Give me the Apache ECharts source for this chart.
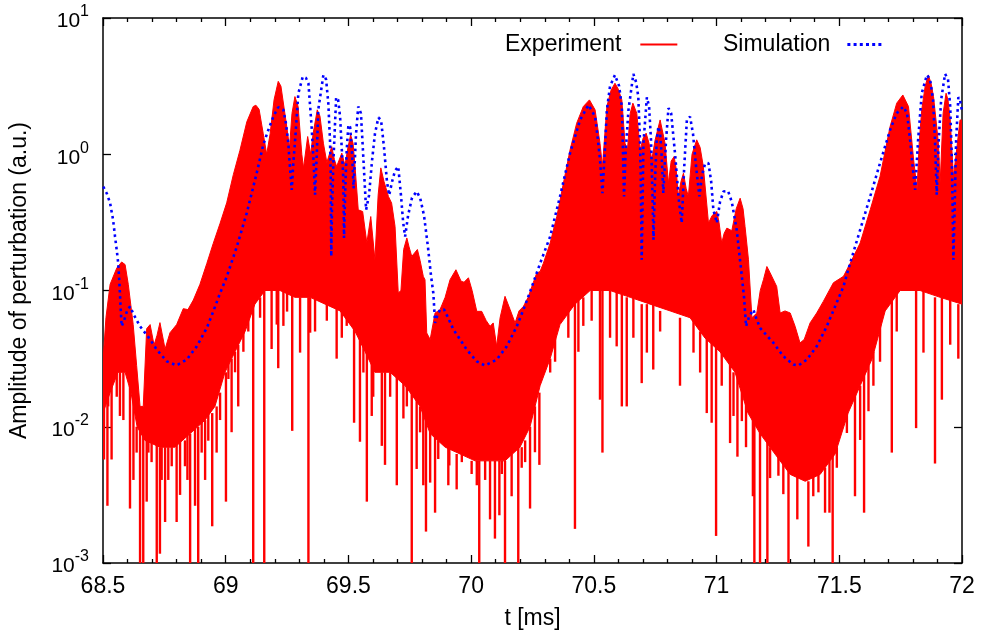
<!DOCTYPE html>
<html>
<head>
<meta charset="utf-8">
<script src="https://cdn.jsdelivr.net/npm/echarts@6/dist/echarts.min.js"></script>
<style>
html,body{margin:0;padding:0;background:#fff;}
#chart{width:982px;height:635px;}
</style>
</head>
<body>
<div id="chart"></div>
<script>
// ---------- data ----------
// x in ms, amplitude in a.u.
const xTicks = [68.5, 69, 69.5, 70, 70.5, 71, 71.5, 72];
const yTicks = [0.001, 0.01, 0.1, 1, 10];

// Experiment: upper edge of the dense red signal
const expUpper = [
[68.500,0.0302],[68.512,0.0631],[68.529,0.111],[68.556,0.146],[68.576,0.162],[68.590,0.155],[68.603,0.111],
[68.623,0.0562],[68.637,0.0282],[68.651,0.0141],[68.664,0.0141],[68.678,0.0525],[68.692,0.0562],[68.708,0.0398],
[68.720,0.0468],[68.732,0.0581],[68.753,0.0372],[68.773,0.0490],[68.800,0.0562],[68.827,0.0736],[68.846,0.0724],
[68.868,0.0851],[68.895,0.111],[68.923,0.158],[68.949,0.221],[68.977,0.311],[69.004,0.440],[69.031,0.708],
[69.058,1.069],[69.086,1.730],[69.112,2.239],[69.123,2.291],[69.136,2.138],[69.153,1.413],[69.167,1.0],
[69.181,1.413],[69.197,2.512],[69.214,3.428],[69.225,3.162],[69.249,1.585],[69.260,1.122],[69.270,1.995],
[69.282,2.649],[69.295,2.239],[69.310,1.0],[69.317,0.794],[69.334,1.349],[69.346,1.0],[69.356,1.413],
[69.373,2.118],[69.384,1.905],[69.398,1.205],[69.412,0.871],[69.432,1.138],[69.443,0.912],[69.452,0.813],
[69.473,1.019],[69.486,0.832],[69.498,1.122],[69.509,1.387],[69.519,1.202],[69.527,0.813],[69.540,0.391],
[69.558,0.380],[69.575,0.223],[69.591,0.349],[69.608,0.168],[69.621,0.501],[69.632,0.794],[69.645,0.631],
[69.663,0.490],[69.676,0.438],[69.690,0.295],[69.703,0.0959],[69.714,0.1],[69.725,0.2],[69.738,0.243],
[69.747,0.209],[69.758,0.178],[69.781,0.2],[69.792,0.166],[69.805,0.127],[69.812,0.120],[69.819,0.0488],
[69.833,0.0437],[69.853,0.0684],[69.873,0.0723],[69.894,0.0891],[69.914,0.120],[69.938,0.142],[69.959,0.117],
[69.971,0.115],[69.989,0.124],[70.004,0.1],[70.023,0.0703],[70.043,0.0703],[70.061,0.0603],[70.077,0.0546],
[70.090,0.0578],[70.104,0.0389],[70.118,0.0631],[70.138,0.0906],[70.159,0.0723],[70.179,0.0578],[70.195,0.0708],
[70.213,0.0764],[70.232,0.0891],[70.253,0.114],[70.267,0.134],[70.281,0.138],[70.294,0.158],[70.322,0.223],
[70.349,0.349],[70.376,0.614],[70.403,1.076],[70.430,1.690],[70.457,2.239],[70.482,2.506],[70.505,2.118],
[70.525,1.205],[70.535,0.813],[70.553,2.239],[70.570,2.951],[70.586,3.319],[70.599,3.020],[70.614,2.506],
[70.627,1.205],[70.637,1.076],[70.648,1.995],[70.659,2.371],[70.675,1.995],[70.689,1.076],[70.701,1.318],
[70.713,1.429],[70.725,1.202],[70.736,0.910],[70.749,1.259],[70.770,1.786],[70.790,1.205],[70.804,0.614],
[70.815,0.891],[70.827,0.962],[70.835,0.794],[70.844,0.490],[70.855,0.631],[70.865,0.726],[70.876,0.562],
[70.885,0.490],[70.900,1.0],[70.919,1.276],[70.933,1.122],[70.946,0.813],[70.967,0.313],[70.982,0.355],
[71.001,0.380],[71.010,0.316],[71.021,0.223],[71.031,0.263],[71.042,0.287],[71.062,0.275],[71.080,0.398],
[71.096,0.476],[71.108,0.398],[71.116,0.295],[71.130,0.168],[71.144,0.0631],[71.164,0.0684],[71.178,0.1],
[71.191,0.120],[71.205,0.150],[71.218,0.135],[71.245,0.107],[71.259,0.0684],[71.279,0.0708],[71.300,0.0684],
[71.320,0.0546],[71.340,0.0412],[71.357,0.0437],[71.381,0.0578],[71.408,0.0684],[71.435,0.0832],[71.476,0.114],
[71.517,0.127],[71.544,0.158],[71.585,0.223],[71.626,0.391],[71.666,0.687],[71.707,1.596],[71.734,2.371],
[71.759,2.723],[71.782,2.239],[71.803,0.910],[71.817,0.548],[71.826,1.259],[71.836,2.118],[71.850,3.162],
[71.863,3.819],[71.874,3.311],[71.884,2.649],[71.904,1.205],[71.911,0.614],[71.923,1.995],[71.935,2.805],
[71.943,2.512],[71.952,1.786],[71.965,0.687],[71.976,1.0],[71.992,1.786],[72.000,1.778]
];

// Experiment: lower edge of the dense red signal
const expLower = [
[68.500,0.0126],[68.529,0.0178],[68.561,0.0251],[68.590,0.0251],[68.614,0.0178],[68.639,0.01],[68.671,0.00794],
[68.732,0.00708],[68.793,0.00708],[68.855,0.00891],[68.916,0.0112],[68.956,0.0141],[68.997,0.0251],[69.038,0.0355],
[69.079,0.0501],[69.119,0.0794],[69.160,0.1],[69.221,0.1],[69.282,0.0891],[69.344,0.0891],[69.405,0.0794],
[69.466,0.0708],[69.527,0.0501],[69.568,0.0355],[69.608,0.0251],[69.670,0.0251],[69.731,0.02],[69.792,0.0141],
[69.833,0.00891],[69.894,0.00708],[69.955,0.00631],[70.016,0.00562],[70.077,0.00562],[70.138,0.00562],[70.199,0.00708],
[70.240,0.01],[70.281,0.02],[70.322,0.0316],[70.362,0.0562],[70.423,0.0794],[70.485,0.1],[70.566,0.1],
[70.648,0.0891],[70.729,0.0794],[70.811,0.0708],[70.892,0.0631],[70.953,0.0447],[71.014,0.0355],[71.075,0.0251],
[71.128,0.0126],[71.177,0.00891],[71.238,0.00631],[71.300,0.00447],[71.361,0.00398],[71.422,0.00447],[71.483,0.00631],
[71.536,0.0126],[71.585,0.02],[71.634,0.0316],[71.687,0.0708],[71.748,0.1],[71.829,0.1],[71.911,0.0891],[72.000,0.0794]
];

// Experiment: downward excursions below the dense part [t, from, to]
const expSpikes = [
[68.504,0.0141,0.00575],[68.518,0.0178,0.00263],[68.521,0.0178,0.0141],[68.535,0.02,0.00575],[68.556,0.0251,0.0166],
[68.569,0.0251,0.012],[68.583,0.0251,0.0112],[68.610,0.02,0.00251],[68.624,0.0178,0.00407],[68.637,0.01,0.00646],
[68.651,0.01,0.001],[68.664,0.00891,0.001],[68.678,0.00794,0.00282],[68.685,0.00794,0.00646],[68.698,0.00794,0.0055],
[68.719,0.00794,0.001],[68.732,0.00708,0.00117],[68.739,0.00708,0.00407],[68.753,0.00708,0.002],[68.766,0.00708,0.00407],
[68.780,0.00708,0.00513],[68.800,0.00794,0.002],[68.814,0.00794,0.00316],[68.834,0.00794,0.00513],[68.844,0.00891,0.00407],
[68.855,0.00891,0.001],[68.875,0.01,0.00263],[68.888,0.01,0.001],[68.902,0.0112,0.00646],[68.916,0.0112,0.00407],
[68.929,0.0126,0.0079],[68.945,0.0126,0.00186],[68.963,0.0141,0.00646],[68.977,0.0178,0.0112],[69.001,0.0251,0.00282],
[69.011,0.0316,0.0224],[69.024,0.0316,0.00912],[69.038,0.0355,0.0251],[69.051,0.0398,0.0141],[69.072,0.0501,0.0355],
[69.092,0.0631,0.05],[69.112,0.0794,0.001],[69.140,0.0891,0.0631],[69.157,0.1,0.001],[69.187,0.1,0.0372],
[69.208,0.1,0.0562],[69.214,0.1,0.0269],[69.235,0.1,0.055],[69.250,0.1,0.07],[69.271,0.1,0.00933],
[69.303,0.0891,0.035],[69.337,0.0891,0.001],[69.344,0.0891,0.049],[69.364,0.0891,0.05],[69.412,0.0794,0.06],
[69.452,0.0794,0.0316],[69.473,0.0708,0.045],[69.493,0.0631,0.055],[69.523,0.0562,0.0107],[69.547,0.0501,0.00776],
[69.561,0.0398,0.025],[69.575,0.0398,0.00282],[69.595,0.0316,0.012],[69.601,0.0316,0.0166],[69.636,0.0251,0.00724],
[69.649,0.0251,0.00525],[69.670,0.0251,0.0166],[69.697,0.0251,0.00372],[69.724,0.0224,0.0115],[69.738,0.02,0.0141],
[69.758,0.02,0.001],[69.778,0.0178,0.0049],[69.792,0.0141,0.0091],[69.805,0.0141,0.00372],[69.816,0.0126,0.0017],
[69.833,0.01,0.00389],[69.853,0.00891,0.00234],[69.866,0.00794,0.0058],[69.907,0.00708,0.00372],[69.911,0.00708,0.0052],
[69.941,0.00631,0.00347],[69.962,0.00631,0.0055],[70.002,0.00562,0.0045],[70.023,0.00562,0.00372],[70.033,0.00562,0.001],
[70.057,0.00562,0.00407],[70.077,0.00562,0.00209],[70.097,0.00562,0.00151],[70.115,0.00562,0.00224],[70.125,0.00562,0.0045],
[70.138,0.00562,0.001],[70.165,0.00631,0.00309],[70.192,0.00708,0.001],[70.206,0.00708,0.005],[70.220,0.00794,0.0055],
[70.240,0.01,0.00251],[70.260,0.0141,0.0065],[70.278,0.0178,0.00525],[70.322,0.0316,0.025],[70.342,0.0447,0.03],
[70.396,0.0708,0.045],[70.423,0.0891,0.00178],[70.437,0.0891,0.0355],[70.457,0.0891,0.055],[70.491,0.1,0.06],
[70.525,0.1,0.0158],[70.535,0.1,0.00646],[70.566,0.1,0.045],[70.593,0.1,0.0389],[70.614,0.1,0.0141],
[70.634,0.0891,0.0141],[70.661,0.0891,0.045],[70.695,0.0794,0.0209],[70.716,0.0794,0.035],[70.742,0.0794,0.0263],
[70.770,0.0708,0.05],[70.851,0.0631,0.02],[70.906,0.0631,0.035],[70.933,0.0501,0.025],[70.960,0.0501,0.0126],
[70.980,0.0447,0.0107],[70.998,0.0398,0.00158],[71.021,0.0355,0.02],[71.055,0.0316,0.00759],[71.069,0.0251,0.012],
[71.085,0.0251,0.00603],[71.103,0.02,0.011],[71.120,0.0158,0.00708],[71.148,0.0126,0.00309],[71.154,0.0126,0.001],
[71.177,0.01,0.001],[71.207,0.00794,0.001],[71.218,0.00708,0.0042],[71.252,0.00631,0.00437],[71.272,0.00562,0.0032],
[71.293,0.00501,0.001],[71.329,0.00447,0.00209],[71.374,0.00398,0.00132],[71.394,0.00447,0.00309],[71.415,0.00447,0.0033],
[71.442,0.00501,0.00234],[71.460,0.00562,0.00234],[71.473,0.00631,0.001],[71.490,0.00708,0.005],[71.531,0.0126,0.009],
[71.564,0.0178,0.00309],[71.585,0.02,0.008],[71.601,0.0251,0.00234],[71.619,0.0282,0.013],[71.639,0.0355,0.02],
[71.666,0.0562,0.03],[71.714,0.0891,0.00646],[71.734,0.1,0.05],[71.813,0.1,0.00977],[71.843,0.1,0.035],
[71.890,0.0891,0.00537],[71.918,0.0891,0.0158],[71.952,0.0891,0.04],[71.985,0.0794,0.0316]
];

// Simulation (blue dotted)
const simulation = [
[68.501,0.579],[68.516,0.513],[68.529,0.437],[68.541,0.331],[68.549,0.249],[68.557,0.191],[68.562,0.158],
[68.567,0.112],[68.571,0.0794],[68.576,0.0546],[68.586,0.0603],[68.598,0.0708],[68.610,0.0764],[68.626,0.0661],
[68.651,0.0546],[68.692,0.0437],[68.719,0.0368],[68.760,0.0302],[68.800,0.0282],[68.841,0.0311],[68.882,0.0389],
[68.923,0.0531],[68.950,0.0708],[68.977,0.0955],[69.004,0.126],[69.045,0.209],[69.086,0.372],[69.126,0.724],
[69.153,1.175],[69.174,1.514],[69.194,1.888],[69.214,2.213],[69.235,2.118],[69.246,1.660],[69.255,1.205],
[69.262,0.794],[69.269,0.548],[69.276,0.891],[69.282,1.213],[69.296,2.805],[69.314,3.715],[69.327,3.631],
[69.337,3.311],[69.350,1.596],[69.358,0.891],[69.364,0.504],[69.371,1.0],[69.377,2.118],[69.398,3.819],
[69.409,3.548],[69.418,2.371],[69.425,1.259],[69.428,0.687],[69.430,0.178],[69.433,0.398],[69.439,0.910],
[69.450,2.618],[69.458,2.512],[69.466,1.888],[69.474,1.0],[69.479,0.687],[69.482,0.243],[69.488,0.631],
[69.493,1.076],[69.500,1.644],[69.507,1.585],[69.515,1.0],[69.521,0.562],[69.531,1.413],[69.540,2.239],
[69.551,1.995],[69.560,1.0],[69.572,0.391],[69.584,0.501],[69.596,0.891],[69.608,1.413],[69.622,1.862],
[69.633,1.778],[69.645,1.122],[69.657,0.631],[69.666,0.501],[69.678,0.631],[69.690,0.759],[69.703,0.813],
[69.714,0.501],[69.723,0.316],[69.731,0.249],[69.743,0.355],[69.759,0.479],[69.778,0.533],[69.792,0.479],
[69.808,0.355],[69.824,0.209],[69.837,0.126],[69.846,0.0955],[69.853,0.0578],[69.863,0.0661],[69.873,0.0723],
[69.890,0.0724],[69.906,0.0631],[69.928,0.0516],[69.955,0.0437],[69.982,0.0368],[70.023,0.0302],[70.057,0.0281],
[70.104,0.0311],[70.145,0.0389],[70.186,0.0546],[70.213,0.0723],[70.240,0.0977],[70.281,0.158],[70.322,0.249],
[70.362,0.490],[70.403,1.019],[70.444,1.786],[70.478,2.301],[70.505,1.888],[70.517,1.259],[70.525,0.910],
[70.535,0.519],[70.544,1.0],[70.553,2.118],[70.566,3.162],[70.586,3.819],[70.603,3.162],[70.614,2.239],
[70.619,1.0],[70.623,0.490],[70.629,1.0],[70.641,2.118],[70.661,3.890],[70.672,3.388],[70.681,2.649],
[70.688,1.259],[70.691,0.687],[70.695,0.168],[70.699,0.501],[70.702,1.205],[70.716,2.618],[70.725,2.239],
[70.733,1.259],[70.739,0.501],[70.743,0.236],[70.749,0.631],[70.756,1.259],[70.763,1.596],[70.770,1.413],
[70.776,1.0],[70.783,0.519],[70.794,1.259],[70.804,2.178],[70.815,1.995],[70.831,1.0],[70.847,0.447],
[70.858,0.313],[70.868,0.794],[70.879,1.786],[70.892,1.888],[70.904,1.413],[70.917,0.794],[70.930,0.490],
[70.941,0.708],[70.953,0.851],[70.967,0.861],[70.978,0.631],[70.987,0.391],[71.001,0.313],[71.014,0.447],
[71.028,0.533],[71.047,0.537],[71.062,0.447],[71.082,0.279],[71.103,0.127],[71.112,0.0891],[71.120,0.0546],
[71.133,0.0646],[71.150,0.0723],[71.161,0.0631],[71.177,0.0531],[71.232,0.0412],[71.272,0.0329],[71.313,0.0286],
[71.333,0.0281],[71.368,0.0311],[71.408,0.0389],[71.449,0.0546],[71.483,0.0764],[71.517,0.107],[71.544,0.158],
[71.585,0.279],[71.626,0.490],[71.666,0.861],[71.707,1.510],[71.734,2.0],[71.761,2.239],[71.776,1.995],
[71.789,1.259],[71.796,0.910],[71.809,0.548],[71.821,1.259],[71.836,2.805],[71.857,3.819],[71.870,3.548],
[71.882,2.512],[71.890,1.259],[71.897,0.504],[71.905,1.259],[71.915,2.512],[71.931,3.890],[71.943,3.548],
[71.952,2.239],[71.958,1.0],[71.962,0.398],[71.965,0.168],[71.970,0.398],[71.976,1.259],[71.985,2.618],
[71.992,2.512],[71.999,2.118]
];

// ---------- chart ----------
const FONT = '"Liberation Sans", Arial, Helvetica, sans-serif';
const RED = '#ff0000';
const BLUE = '#0000ff';
const chart = echarts.init(document.getElementById('chart'), null, {renderer: 'canvas'});

function supLabel(v) {
  const e = Math.round(Math.log10(v));
  return '{b|10}{s|' + e + '}';
}

const axisLineStyle = {color: '#000', width: 1.5};
const tickStyle = {color: '#000', width: 1.3};
const dotIcon = 'path://M0,0h3v3h-3z M6.2,0h3v3h-3z M12.4,0h3v3h-3z M18.6,0h3v3h-3z M24.8,0h3v3h-3z M31,0h3v3h-3z';

const option = {
  animation: false,
  backgroundColor: '#ffffff',
  textStyle: {fontFamily: FONT, color: '#000'},
  grid: {left: 103, right: 20, top: 18, bottom: 71, containLabel: false},
  legend: [
    {
      data: ['Experiment'], left: 505, top: 33, padding: 0, align: 'right',
      icon: 'rect', itemWidth: 37, itemHeight: 2,
      textStyle: {fontSize: 23, fontFamily: FONT, color: '#000', padding: [0, 14, 0, 0]},
      selectedMode: false
    },
    {
      data: ['Simulation'], left: 723, top: 33, padding: 0, align: 'right',
      icon: dotIcon, itemWidth: 34, itemHeight: 3,
      textStyle: {fontSize: 23, fontFamily: FONT, color: '#000', padding: [0, 12, 0, 0]},
      selectedMode: false
    }
  ],
  xAxis: [
    {
      type: 'value', min: xTicks[0], max: xTicks[xTicks.length - 1], interval: 0.5,
      position: 'bottom', gridIndex: 0,
      name: 't [ms]', nameLocation: 'middle', nameGap: 44,
      nameTextStyle: {fontSize: 23, fontFamily: FONT, color: '#000'},
      axisLine: {show: true, onZero: false, lineStyle: axisLineStyle},
      axisTick: {show: true, inside: true, length: 8, lineStyle: tickStyle},
      minorTick: {show: true, splitNumber: 5, length: 4, lineStyle: tickStyle},
      axisLabel: {fontSize: 23, fontFamily: FONT, color: '#000', margin: 12},
      splitLine: {show: false}, minorSplitLine: {show: false}
    },
    {
      type: 'value', min: xTicks[0], max: xTicks[xTicks.length - 1], interval: 0.5,
      position: 'top', gridIndex: 0,
      axisLine: {show: true, onZero: false, lineStyle: axisLineStyle},
      axisTick: {show: true, inside: true, length: 8, lineStyle: tickStyle},
      minorTick: {show: true, splitNumber: 5, length: 4, lineStyle: tickStyle},
      axisLabel: {show: false},
      splitLine: {show: false}
    }
  ],
  yAxis: [
    {
      type: 'log', logBase: 10, min: yTicks[0], max: yTicks[yTicks.length - 1],
      position: 'left', gridIndex: 0,
      name: 'Amplitude of perturbation (a.u.)', nameLocation: 'middle', nameGap: 72,
      nameTextStyle: {fontSize: 23, fontFamily: FONT, color: '#000', padding: [0, 0, 0, 20]},
      axisLine: {show: true, onZero: false, lineStyle: axisLineStyle},
      axisTick: {show: true, inside: true, length: 8, lineStyle: tickStyle},
      axisLabel: {
        margin: 14, color: '#000', fontFamily: FONT,
        formatter: supLabel,
        rich: {
          b: {fontSize: 21, fontFamily: FONT, color: '#000', verticalAlign: 'bottom', lineHeight: 28},
          s: {fontSize: 16, fontFamily: FONT, color: '#000', verticalAlign: 'top', lineHeight: 16}
        }
      },
      splitLine: {show: false}
    },
    {
      type: 'log', logBase: 10, min: yTicks[0], max: yTicks[yTicks.length - 1],
      position: 'right', gridIndex: 0,
      axisLine: {show: true, onZero: false, lineStyle: axisLineStyle},
      axisTick: {show: true, inside: true, length: 8, lineStyle: tickStyle},
      axisLabel: {show: false},
      splitLine: {show: false}
    }
  ],
  series: [
    {
      name: 'Experiment', type: 'custom', xAxisIndex: 0, yAxisIndex: 0,
      clip: true, silent: true, z: 2,
      itemStyle: {color: RED},
      data: expUpper, encode: {x: 0, y: 1},
      renderItem: function (params, api) {
        if (params.dataIndex !== 0) return null;
        const pts = [];
        for (let i = 0; i < expUpper.length; i++) pts.push(api.coord(expUpper[i]));
        for (let i = expLower.length - 1; i >= 0; i--) pts.push(api.coord(expLower[i]));
        return {type: 'polygon', shape: {points: pts},
                style: {fill: RED, stroke: RED, lineWidth: 1}};
      }
    },
    {
      name: 'Experiment', type: 'custom', xAxisIndex: 0, yAxisIndex: 0,
      clip: true, silent: true, z: 2,
      itemStyle: {color: RED},
      data: expSpikes, encode: {x: 0, y: [1, 2]},
      renderItem: function (params, api) {
        const a = api.coord([api.value(0), api.value(1)]);
        const b = api.coord([api.value(0), api.value(2)]);
        return {type: 'line', shape: {x1: a[0], y1: a[1], x2: b[0], y2: b[1]},
                style: {stroke: RED, lineWidth: 2.4}};
      }
    },
    {
      name: 'Simulation', type: 'line', xAxisIndex: 0, yAxisIndex: 0,
      data: simulation, symbol: 'none', showSymbol: false, smooth: false, z: 5,
      clip: true, silent: true,
      itemStyle: {color: BLUE},
      lineStyle: {color: BLUE, width: 2.6, type: [2.6, 3.6], cap: 'butt'}
    }
  ]
};
chart.setOption(option);
</script>
</body>
</html>
